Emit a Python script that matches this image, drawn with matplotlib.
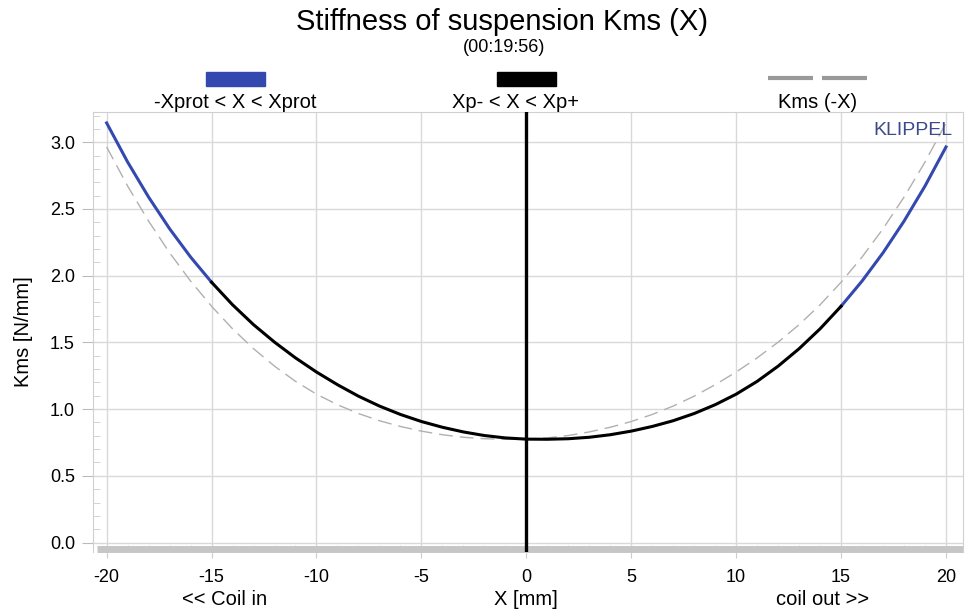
import matplotlib
matplotlib.use('Agg')
import matplotlib.pyplot as plt
from matplotlib.lines import Line2D
from matplotlib.patches import Rectangle
from matplotlib.ticker import MultipleLocator
import numpy as np

plt.rcParams['font.family'] = ['Liberation Sans', 'DejaVu Sans']
plt.rcParams['axes.unicode_minus'] = False   # plain hyphen like the original

# ---- data ----
x_mm = np.arange(-20, 21)          # displacement X [mm]
kms = [3.145, 2.852, 2.589, 2.352, 2.140, 1.951, 1.782, 1.633, 1.502, 1.384,
       1.278, 1.183, 1.097, 1.023, 0.960, 0.907, 0.864, 0.829, 0.802, 0.784,
       0.775,
       0.774, 0.778, 0.789, 0.808, 0.835, 0.870, 0.913, 0.967, 1.033, 1.112,
       1.208, 1.322, 1.453, 1.602, 1.771, 1.960, 2.172, 2.409, 2.672, 2.965]
kms = np.array(kms)                # Kms(X) [N/mm]
kms_mirror = kms[::-1]             # Kms(-X)
xp_minus, xp_plus = -15, 15        # Xp- , Xp+

blue = '#3449b0'
grey = '#b0b0b0'

fig = plt.figure(figsize=(9.67, 6.11), dpi=100)
W, H = 967, 611
ax = fig.add_axes([93 / W, 1 - 552 / H, (963 - 93) / W, (552 - 112) / H])

# dashed mirrored curve
ax.plot(x_mm, kms_mirror, color=grey, lw=1.0, dashes=(10, 5), zorder=2)

# blue outside Xp range, black inside
inside = (x_mm >= xp_minus) & (x_mm <= xp_plus)
left = x_mm <= xp_minus
right = x_mm >= xp_plus
ax.plot(x_mm[left], kms[left], color=blue, lw=2.2, zorder=3)
ax.plot(x_mm[right], kms[right], color=blue, lw=2.2, zorder=3)
ax.plot(x_mm[inside], kms[inside], color='black', lw=2.2, zorder=4)

# rest position
ax.axvline(0, color='black', lw=2.4, zorder=5)

ax.set_xlim(-20.65, 20.81)
ax.set_ylim(-0.071, 3.227)
ax.xaxis.set_major_locator(MultipleLocator(5))
ax.xaxis.set_minor_locator(MultipleLocator(1))
ax.yaxis.set_major_locator(MultipleLocator(0.5))
ax.yaxis.set_minor_locator(MultipleLocator(0.1))
ax.yaxis.set_major_formatter(plt.FormatStrFormatter('%.1f'))
ax.grid(True, which='major', color='#d9d9d9', lw=1.0)
ax.set_axisbelow(True)

for s in ax.spines.values():
    s.set_color('#d0d0d0')
    s.set_linewidth(0.8)
ax.spines['bottom'].set_visible(False)
# grey baseline bar
ax.plot([-20.45, 20.81], [-0.045, -0.045], color='#c6c6c6', lw=5,
        solid_capstyle='butt', clip_on=False, zorder=1)

ax.tick_params(axis='y', which='major', direction='out', length=8, width=0.8,
               color='#bbbbbb', labelsize=13, pad=5)
ax.tick_params(axis='y', which='minor', direction='in', length=5, width=0.6,
               color='#cccccc')
ax.tick_params(axis='x', which='major', direction='out', length=4, width=0.8,
               color='#cccccc', labelsize=13, pad=8)
ax.tick_params(axis='x', which='minor', direction='in', length=5, width=0.6,
               color='#d0d0d0')

ax.set_ylabel('Kms [N/mm]', fontsize=14.5, labelpad=12)

tr = ax.get_xaxis_transform()
ax.text(-14.4, -0.107, '<< Coil in', transform=tr, ha='center', va='center', fontsize=14.5)
ax.text(0, -0.107, 'X [mm]', transform=tr, ha='center', va='center', fontsize=14.5)
ax.text(14.1, -0.107, 'coil out >>', transform=tr, ha='center', va='center', fontsize=14.5)

ax.text(0.988, 0.958, 'KLIPPEL', transform=ax.transAxes, ha='right', va='center',
        color='#3a4a8c', fontsize=14)

# title
fig.text(502 / W, 1 - 22 / H, 'Stiffness of suspension Kms (X)', ha='center',
         va='center', fontsize=21)
fig.text(504 / W, 1 - 47 / H, '(00:19:56)', ha='center', va='center', fontsize=13)

# legend strip above the plot
fig.add_artist(Rectangle((206 / W, 1 - 86 / H), 59 / W, 14 / H, color=blue,
                         transform=fig.transFigure))
fig.add_artist(Rectangle((497 / W, 1 - 86 / H), 59 / W, 14 / H, color='black',
                         transform=fig.transFigure))
for x0, x1 in [(768, 813), (822, 867)]:
    fig.add_artist(Line2D([x0 / W, x1 / W], [1 - 78 / H, 1 - 78 / H], color='#999999',
                          lw=3, transform=fig.transFigure, solid_capstyle='butt'))
fig.text(235 / W, 1 - 102 / H, '-Xprot < X < Xprot', ha='center', va='center', fontsize=14.5)
fig.text(516 / W, 1 - 102 / H, 'Xp- < X < Xp+', ha='center', va='center', fontsize=14.5)
fig.text(818 / W, 1 - 102 / H, 'Kms (-X)', ha='center', va='center', fontsize=14.5)

fig.savefig('out.png', dpi=100)
